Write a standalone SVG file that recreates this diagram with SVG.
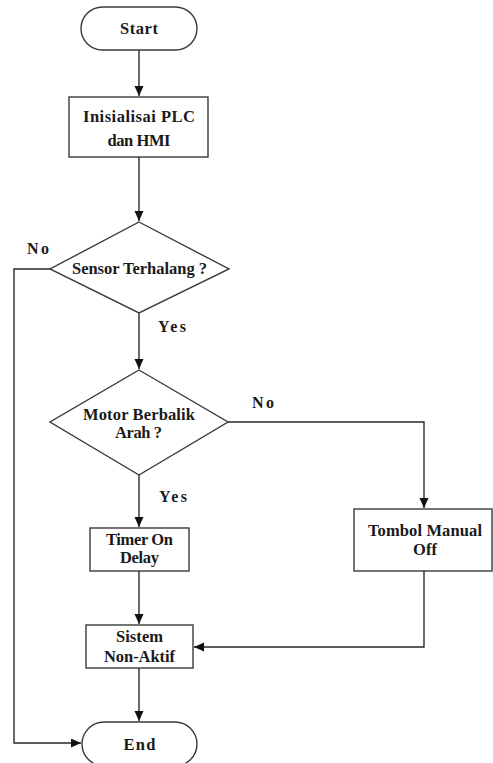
<svg xmlns="http://www.w3.org/2000/svg" width="493" height="763" viewBox="0 0 493 763">
<style>
  .shape{fill:#fff;stroke:#3a3a3a;stroke-width:1.4}
  .t{font-family:"Liberation Serif","Times New Roman",serif;font-weight:bold;font-size:16.5px;fill:#1a1a1a;text-anchor:middle}
  .lbl{font-family:"Liberation Serif","Times New Roman",serif;font-weight:bold;font-size:16px;fill:#1a1a1a}
  .c{fill:none;stroke:#2a2a2a;stroke-width:1.4}
</style>
<defs>
  <marker id="ah" markerUnits="userSpaceOnUse" markerWidth="11" markerHeight="10" refX="10" refY="4.5" orient="auto">
    <path d="M0,0 L10,4.5 L0,9 z" fill="#111"/>
  </marker>
</defs>
<rect width="493" height="763" fill="#fff"/>
<g id="connectors">
  <path class="c" d="M139,50 V96" marker-end="url(#ah)"/>
  <path class="c" d="M139,157 V221" marker-end="url(#ah)"/>
  <path class="c" d="M139,313 V369" marker-end="url(#ah)"/>
  <path class="c" d="M139,475 V527" marker-end="url(#ah)"/>
  <path class="c" d="M139,571 V624" marker-end="url(#ah)"/>
  <path class="c" d="M139,668 V721" marker-end="url(#ah)"/>
  <path class="c" d="M50,269 H14 V743 H81" marker-end="url(#ah)"/>
  <path class="c" d="M228,422 H424 V508" marker-end="url(#ah)"/>
  <path class="c" d="M424,571 V647 H194" marker-end="url(#ah)"/>
  <text class="lbl" x="27" y="254" textLength="22" lengthAdjust="spacing">No</text>
  <text class="lbl" x="158" y="332" textLength="28" lengthAdjust="spacing">Yes</text>
  <text class="lbl" x="252" y="408" textLength="22" lengthAdjust="spacing">No</text>
  <text class="lbl" x="159" y="502" textLength="28" lengthAdjust="spacing">Yes</text>
</g>
<g id="start">
  <rect class="shape" x="81" y="7" width="116" height="43" rx="21.5"/>
  <text class="t" x="139" y="34" textLength="38" lengthAdjust="spacing">Start</text>
</g>
<g id="init">
  <rect class="shape" x="69" y="97" width="139" height="60"/>
  <text class="t" x="139" y="122" textLength="112" lengthAdjust="spacing">Inisialisai PLC</text>
  <text class="t" x="139" y="146" textLength="63" lengthAdjust="spacing">dan HMI</text>
</g>
<g id="sensor">
  <polygon class="shape" points="139,222 229,269 139,313 50,269"/>
  <text class="t" x="139.5" y="273.5" textLength="135" lengthAdjust="spacing">Sensor Terhalang ?</text>
</g>
<g id="motor">
  <polygon class="shape" points="139,370 228,422 139,475 50,422"/>
  <text class="t" x="139" y="420" textLength="112" lengthAdjust="spacing">Motor Berbalik</text>
  <text class="t" x="138.5" y="438" textLength="47" lengthAdjust="spacing">Arah ?</text>
</g>
<g id="timer">
  <rect class="shape" x="90" y="528" width="99" height="43"/>
  <text class="t" x="139.5" y="545" textLength="67" lengthAdjust="spacing">Timer On</text>
  <text class="t" x="139.5" y="563" textLength="39" lengthAdjust="spacing">Delay</text>
</g>
<g id="tombol">
  <rect class="shape" x="354" y="509" width="138" height="62"/>
  <text class="t" x="425" y="536" textLength="114" lengthAdjust="spacing">Tombol Manual</text>
  <text class="t" x="425" y="555" textLength="24" lengthAdjust="spacing">Off</text>
</g>
<g id="sistem">
  <rect class="shape" x="86" y="625" width="107" height="43"/>
  <text class="t" x="139.5" y="642" textLength="47" lengthAdjust="spacing">Sistem</text>
  <text class="t" x="139.5" y="662" textLength="71" lengthAdjust="spacing">Non-Aktif</text>
</g>
<g id="end">
  <rect class="shape" x="82" y="722" width="115" height="44" rx="22"/>
  <text class="t" x="139.5" y="750" textLength="32" lengthAdjust="spacing">End</text>
</g>
</svg>
